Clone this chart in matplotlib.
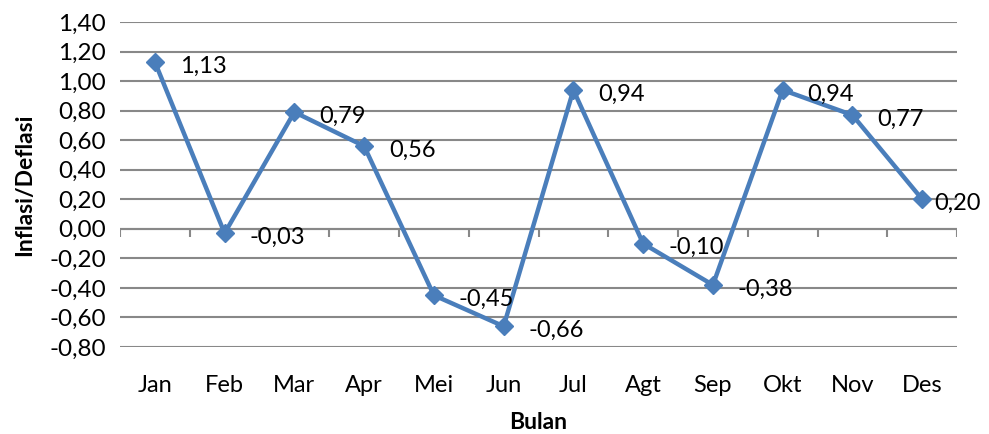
import numpy as np
import matplotlib
matplotlib.use('Agg')
import matplotlib.pyplot as plt

plt.rcParams['font.family'] = ['Lato', 'DejaVu Sans']

# data
months = ['Jan', 'Feb', 'Mar', 'Apr', 'Mei', 'Jun', 'Jul', 'Agt', 'Sep', 'Okt', 'Nov', 'Des']
inflasi = [1.13, -0.03, 0.79, 0.56, -0.45, -0.66, 0.94, -0.10, -0.38, 0.94, 0.77, 0.20]
y_ticks = [-0.8, -0.6, -0.4, -0.2, 0.0, 0.2, 0.4, 0.6, 0.8, 1.0, 1.2, 1.4]

line_color = '#4A7EBB'
grid_color = '#888888'
fs = 17

fig = plt.figure(figsize=(9.89, 4.34), dpi=100)
ax = fig.add_axes([0.1213, 0.2005, 0.8464, 0.7488])

x = np.arange(len(months))
ax.plot(x, inflasi, color=line_color, lw=3.2, marker='D', markersize=9,
        markeredgecolor=line_color, markerfacecolor=line_color, zorder=3)

for xi, v in zip(x, inflasi):
    # last label is pulled in so it stays inside the figure, like in excel
    dx = 9 if xi == len(months) - 1 else 18
    ax.annotate(f'{v:.2f}'.replace('.', ','), (xi, v), textcoords='offset points',
                xytext=(dx, -3), ha='left', va='center', fontsize=fs)

ax.set_xlim(-0.5, len(months) - 0.5)
ax.set_ylim(y_ticks[0], y_ticks[-1])
ax.set_yticks(y_ticks)
ax.set_yticklabels([f'{t:.2f}'.replace('.', ',') for t in y_ticks], fontsize=17.5)
ax.set_xticks(x)
ax.set_xticklabels(months, fontsize=fs)
ax.tick_params(axis='both', length=0)
ax.tick_params(axis='x', pad=20)
ax.tick_params(axis='y', pad=10)

for s in ax.spines.values():
    s.set_visible(False)
ax.yaxis.grid(True, color=grid_color, lw=1.5)
ax.set_axisbelow(True)

# category axis at zero with tick marks between categories
bounds = np.arange(len(months) + 1) - 0.5
ax.vlines(bounds, -0.055, 0, color=grid_color, lw=1.5, zorder=1)
ax.axhline(0, color=grid_color, lw=1.5, zorder=1)

ax.set_xlabel('Bulan', fontsize=16.5, fontweight='bold', labelpad=12)
ax.set_ylabel('Inflasi/Deflasi', fontsize=16.5, fontweight='bold', labelpad=10)

plt.savefig('out.png', dpi=100)
